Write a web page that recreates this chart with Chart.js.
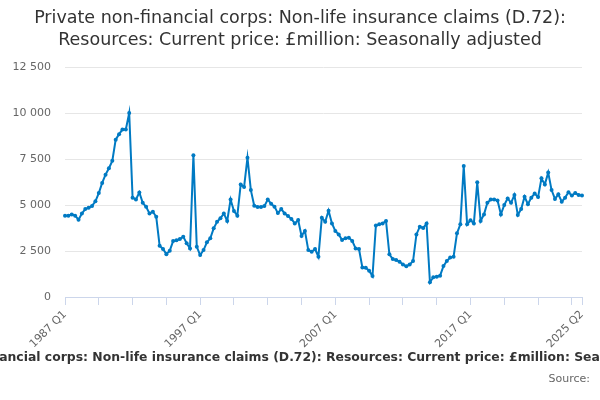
<!DOCTYPE html>
<html>
<head>
<meta charset="utf-8">
<script src="https://cdn.jsdelivr.net/npm/chart.js@4.4.1/dist/chart.umd.min.js"></script>
<style>
  html, body { margin: 0; padding: 0; background: #fff; }
  #wrap { width: 600px; height: 400px; }
</style>
</head>
<body>
<div id="wrap"><canvas id="chartCanvas"></canvas></div>
<script>
// Quarter labels 1987 Q1 .. 2025 Q2
const firstYear = 1987;
const quarterLabels = [];
for (let y = firstYear; y <= 2025; y++) {
  for (let q = 1; q <= 4; q++) {
    if (y === 2025 && q > 2) break;
    quarterLabels.push(y + ' Q' + q);
  }
}

// Values, £million
const claims1987to1991 = [4420, 4420, 4490, 4420, 4200, 4540, 4780, 4850, 4950, 5200, 5650, 6200, 6650, 7000, 7400, 8550, 8850, 9100, 9100, 10000];
const claims1992to1996 = [5400, 5300, 5680, 5120, 4900, 4540, 4630, 4360, 2790, 2610, 2330, 2520, 3040, 3080, 3150, 3280, 2920, 2640, 7710, 2730];
const claims1997to2001 = [2280, 2550, 2970, 3190, 3730, 4090, 4280, 4540, 4130, 5300, 4670, 4420, 6120, 5980, 7570, 5810, 4960, 4890, 4890, 4940];
const claims2002to2006 = [5300, 5070, 4910, 4560, 4780, 4540, 4400, 4240, 4000, 4180, 3320, 3590, 2550, 2460, 2610, 2190, 4310, 4090, 4690, 4000];
const claims2007to2011 = [3590, 3400, 3100, 3190, 3220, 3050, 2640, 2610, 1610, 1590, 1430, 1140, 3880, 3950, 4000, 4130, 2320, 2060, 2010, 1920];
const claims2012to2016 = [1770, 1670, 1770, 1950, 3400, 3820, 3750, 4000, 800, 1070, 1100, 1160, 1680, 1960, 2140, 2190, 3460, 3950, 7120, 3950];
const claims2017to2021 = [4170, 4000, 6230, 4130, 4490, 5120, 5300, 5300, 5250, 4490, 5000, 5360, 5120, 5540, 4460, 4780, 5450, 5040, 5400, 5620];
const claims2022to2025 = [5430, 6450, 6120, 6760, 5810, 5330, 5580, 5180, 5400, 5690, 5510, 5650, 5540, 5510];

const claims = [].concat(claims1987to1991, claims1992to1996, claims1997to2001, claims2002to2006,
  claims2007to2011, claims2012to2016, claims2017to2021, claims2022to2025);

const yTicks = [0, 2500, 5000, 7500, 10000, 12500];
const shownLabels = ['1987 Q1', '1997 Q1', '2007 Q1', '2017 Q1', '2025 Q2'];

const titleLines = ['Private non-financial corps: Non-life insurance claims (D.72):',
                    'Resources: Current price: £million: Seasonally adjusted'];
const seriesName = 'Private non-financial corps: Non-life insurance claims (D.72): Resources: Current price: £million: Seasonally adjusted';
const sourceText = 'Source:';
const lineColor = '#007ac3';
const axisColor = '#ccd6eb';
const fontFamily = '"DejaVu Sans", sans-serif';

function withSpaces(v) {
  return String(v).replace(/\B(?=(\d{3})+(?!\d))/g, ' ');
}

const lastIndex = quarterLabels.length - 1;
function isMarkedTick(i) {
  return i % 10 === 0 || i === lastIndex;
}

// Title, axis caption and source line are drawn by hand: the title is
// centred on the whole canvas and the long caption runs off both edges
const pageText = {
  id: 'pageText',
  afterDraw(chart) {
    const c = chart.ctx;
    const mid = chart.width / 2;
    c.save();
    c.textBaseline = 'middle';
    c.textAlign = 'center';
    c.fillStyle = '#333333';
    c.font = '17.5px ' + fontFamily;
    c.fillText(titleLines[0], mid, 18);
    c.fillText(titleLines[1], mid, 40);
    c.font = 'bold 12.4px ' + fontFamily;
    c.fillText(seriesName, mid + 5, 358);
    c.textAlign = 'right';
    c.fillStyle = '#666666';
    c.font = '11px ' + fontFamily;
    c.fillText(sourceText, chart.width - 10, 379);
    c.restore();
  }
};

const ctx = document.getElementById('chartCanvas').getContext('2d');
new Chart(ctx, {
  type: 'line',
  data: {
    labels: quarterLabels,
    datasets: [{
      label: seriesName,
      data: claims,
      borderColor: lineColor,
      backgroundColor: lineColor,
      borderWidth: 2,
      pointRadius: 2,
      pointBorderWidth: 0,
      tension: 0
    }]
  },
  options: {
    responsive: true,
    maintainAspectRatio: false,
    animation: false,
    layout: { padding: { left: 0, right: 18, top: 67, bottom: 43 } },
    scales: {
      x: {
        offset: false,
        border: { color: axisColor, width: 1 },
        grid: {
          drawOnChartArea: false,
          drawTicks: true,
          tickLength: 8,
          tickColor: (c) => isMarkedTick(c.index) ? axisColor : 'rgba(0,0,0,0)'
        },
        afterFit: (scale) => { scale.height = 60; },
        ticks: {
          autoSkip: false,
          maxRotation: 45,
          minRotation: 45,
          color: '#666666',
          font: { family: fontFamily, size: 11 },
          callback: function (value, index) {
            const lab = this.getLabelForValue(value);
            return shownLabels.includes(lab) ? lab : '';
          }
        }
      },
      y: {
        min: 0,
        max: 12500,
        border: { display: false },
        grid: { color: '#e6e6e6', drawTicks: false },
        afterBuildTicks: (scale) => {
          scale.ticks = yTicks.map(v => ({ value: v }));
        },
        afterFit: (scale) => { scale.width = 65; },
        ticks: {
          color: '#666666',
          padding: 14,
          font: { family: fontFamily, size: 11 },
          callback: (v) => withSpaces(v)
        }
      }
    },
    plugins: {
      legend: { display: false },
      tooltip: { enabled: false },
      title: { display: false }
    }
  },
  plugins: [pageText]
});
</script>
</body>
</html>
